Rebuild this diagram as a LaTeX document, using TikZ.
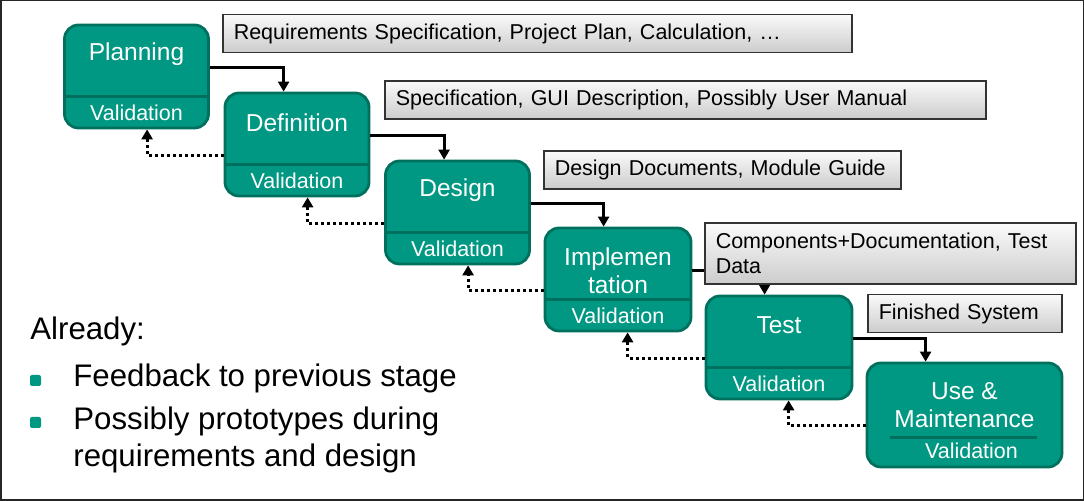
\documentclass[tikz,border=0pt]{standalone}
\usepackage{fontspec}
\setmainfont{Liberation Sans}
\usetikzlibrary{calc,arrows.meta,positioning}
\definecolor{stageteal}{RGB}{0,152,130}
\definecolor{stageedge}{RGB}{0,112,94}
\tikzset{
  stage/.style={rectangle,rounded corners=7pt,fill=stageteal,draw=stageedge,
    line width=1.4pt,minimum width=72pt,minimum height=51.5pt,inner sep=0pt},
  stagename/.style={text=white,font=\fontsize{12.25}{14}\selectfont,align=center,inner sep=0pt},
  stageval/.style={text=white,font=\fontsize{10.75}{13}\selectfont,inner sep=0pt},
  divider/.style={draw=stageedge,line width=1.4pt},
  doc/.style={draw=black!80,line width=0.75pt,top color=gray!4,bottom color=gray!40,
    anchor=west,align=left,inner xsep=5.5pt,inner ysep=0pt,minimum height=19pt,
    font=\fontsize{10.75}{12.5}\selectfont},
  flow/.style={-{Triangle[length=5pt,width=5.5pt]},line width=1.5pt},
  back/.style={flow,dash pattern=on 1.5pt off 1.5pt},
  bullet/.style={fill=stageteal,rounded corners=1pt,minimum size=5.5pt,inner sep=0pt},
  item/.style={anchor=base west,inner sep=0pt,font=\fontsize{15.6}{18.5}\selectfont}
}

\begin{document}
\begin{tikzpicture}[x=0.5pt,y=-0.5pt]
  \useasboundingbox (0,0) rectangle (1084,501);
  \draw[black!85,line width=0.75pt] (0.75,0.75) rectangle (1083.25,500.25);

  % stages
  \node[stage] (plan) at (136.5,76.5) {};
  \node[stage] (def) at (297,144.5) {};
  \node[stage] (des) at (457.5,212.5) {};
  \node[stage,minimum width=73pt] (impl) at (618,279.5) {};
  \node[stage,minimum width=73pt] (test) at (779,347.5) {};
  \node[stage,minimum width=97.5pt,minimum height=52pt] (use) at (964.5,415) {};

  \node[stagename] at ([yshift=-15.5pt]plan.north) {Planning};
  \node[stagename] at ([yshift=-15.5pt]def.north) {Definition};
  \node[stagename] at ([yshift=-15.5pt]des.north) {Design};
  \node[stagename] at ([yshift=-22pt]impl.north) {Implemen\\tation};
  \node[stagename] at ([yshift=-22pt]use.north) {Use \&\\Maintenance};
  \node[stagename] at ([yshift=-15.5pt]test.north) {Test};

  \foreach \s in {plan,def,des,impl,test}{
    \draw[divider] ([yshift=16.5pt]\s.south west) -- ([yshift=16.5pt]\s.south east);
    \node[stageval] at ([yshift=8.25pt]\s.south) {Validation};
  }
  \draw[divider] ([xshift=12pt,yshift=15.5pt]use.south west) -- ([xshift=-13pt,yshift=15.5pt]use.south east);
  \node[stageval] at ([xshift=3.5pt,yshift=9pt]use.south) {Validation};

  % forward flow
  \draw[flow] ([yshift=4.25pt]plan.east) -| ([xshift=30pt]def.north west);
  \draw[flow] ([yshift=4.25pt]def.east) -| ([xshift=30pt]des.north west);
  \draw[flow] ([yshift=4.25pt]des.east) -| ([xshift=30pt]impl.north west);
  \draw[flow] ([yshift=4.25pt]impl.east) -| ([xshift=30pt]test.north west);
  \draw[flow] ([yshift=4.25pt]test.east) -| ([xshift=30pt]use.north west);

  % feedback
  \draw[back] ([yshift=-5.5pt]def.west) -| ([xshift=42pt]plan.south west);
  \draw[back] ([yshift=-5.5pt]des.west) -| ([xshift=42pt]def.south west);
  \draw[back] ([yshift=-5.5pt]impl.west) -| ([xshift=42pt]des.south west);
  \draw[back] ([yshift=-5.5pt]test.west) -| ([xshift=42pt]impl.south west);
  \draw[back] ([yshift=-5.5pt]use.west) -| ([xshift=42pt]test.south west);

  % documents
  \node[doc,text width=303.5pt] (reqdoc) at (222,33.5) {Requirements Specification, Project Plan, Calculation, …};
  \node[doc,text width=289.5pt] (specdoc) at (384,100) {Specification, GUI Description, Possibly User Manual};
  \node[doc,text width=167.5pt] (desdoc) at (543,170) {Design Documents, Module Guide};
  \node[doc,text width=174.5pt,minimum height=30.5pt] (compdoc) at (704,253.5) {Components+Documentation, Test\\Data};
  \node[doc,text width=86pt] (sysdoc) at (867,313.5) {Finished System};

  % notes
  \node[item] (already) at (30,340) {Already:};
  \node[bullet] (b1) at (35.5,380.5) {};
  \node[bullet] (b2) at (35.5,422.5) {};
  \node[item] (feedback) at (73,387) {Feedback to previous stage};
  \node[item,align=left] (proto) at (73,467) {Possibly prototypes during\\requirements and design};
\end{tikzpicture}
\end{document}
